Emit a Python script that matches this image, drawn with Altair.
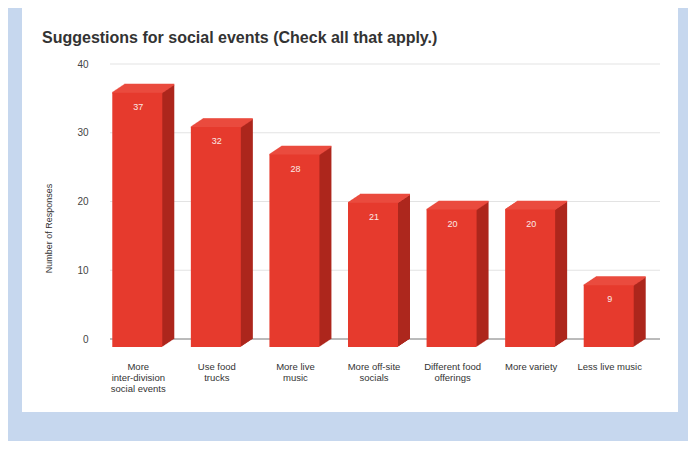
import altair as alt
import pandas as pd

categories = [
    "More|inter-division|social events",
    "Use food|trucks",
    "More live|music",
    "More off-site|socials",
    "Different food|offerings",
    "More variety",
    "Less live music",
]
responses = [37, 32, 28, 21, 20, 20, 9]
y_ticks = [0, 10, 20, 30, 40]

FONT = "Liberation Sans"
FRONT = "#e63a2d"
SIDE = "#ad271d"
TOP = "#ea4b3f"
DX, DY, N = 12, 8, 12
BAR_W = 50

df = pd.DataFrame({"cat": categories, "n": responses})
grid_df = pd.DataFrame({"t": y_ticks})
panel_df = pd.DataFrame({"a": [0]})

x_enc = alt.X(
    "cat:N",
    sort=categories,
    scale=alt.Scale(paddingInner=0.36, paddingOuter=0.18),
    axis=alt.Axis(
        title=None, labelAngle=0, domain=False, ticks=False,
        labelExpr="split(datum.value, '|')", labelOffset=-11,
        labelPadding=22, labelFontSize=9.5, labelColor="#333",
        labelFont=FONT, labelLineHeight=11, labelBaseline="top", zindex=1,
    ),
)
y_scale = alt.Scale(domain=[0, 40], nice=False)
y_axis = alt.Axis(
    values=y_ticks, grid=False, domain=False, ticks=False,
    labelPadding=22, labelFontSize=10, labelColor="#444", labelFont=FONT,
    title="Number of Responses", titleFontSize=9, titleFont=FONT,
    titleFontWeight="normal", titleColor="#333", titleX=-57, titleY=164,
    titleAngle=-90, zindex=1,
)

panel = alt.Chart(panel_df).mark_rect(color="white").encode(
    x=alt.value(-88), x2=alt.value(568), y=alt.value(-56), y2=alt.value(348)
)

grid = alt.Chart(grid_df).mark_rule(strokeWidth=1).encode(
    y=alt.Y("t:Q", scale=y_scale, axis=y_axis),
    color=alt.condition("datum.t == 0", alt.value("#777777"), alt.value("#e3e3e3")),
)

layers = [panel, grid]

# side extrusion (back to front)
for k in range(0, N):
    f = k / N
    xo = -DX * f
    yo = DY * f
    layers.append(
        alt.Chart(df).mark_bar(
            color=SIDE, width=BAR_W, xOffset=xo, yOffset=yo, y2Offset=yo
        ).encode(x=x_enc, y=alt.Y("n:Q", scale=y_scale, axis=y_axis))
    )
# top face
for k in range(0, N + 1):
    f = k / N
    xo = -DX * f
    yo = DY * f
    layers.append(
        alt.Chart(df).mark_tick(
            color=TOP, size=BAR_W, thickness=1.6, xOffset=xo, yOffset=yo, opacity=1
        ).encode(x=x_enc, y=alt.Y("n:Q", scale=y_scale, axis=y_axis))
    )
# front face
layers.append(
    alt.Chart(df).mark_bar(
        color=FRONT, width=BAR_W, xOffset=-DX, yOffset=DY, y2Offset=DY + 1
    ).encode(x=x_enc, y=alt.Y("n:Q", scale=y_scale, axis=y_axis))
)
# value labels
layers.append(
    alt.Chart(df).mark_text(
        color="#fbe9e6", fontSize=9, font=FONT, xOffset=-11, yOffset=22,
        baseline="middle",
    ).encode(x=x_enc, y=alt.Y("n:Q", scale=y_scale, axis=y_axis), text="n:Q")
)

chart = alt.layer(*layers).properties(
    width=550,
    height=275,
    autosize=alt.AutoSizeParams(type="none"),
    padding={"left": 102, "top": 56, "right": 28, "bottom": 102},
    background="#c6d7ee",
    title=alt.TitleParams(
        "Suggestions for social events (Check all that apply.)",
        anchor="start", dx=20, dy=38, offset=0, fontSize=16, font=FONT,
        fontWeight="bold", color="#333",
    ),
).configure_view(stroke=None)

chart.save("out.html", embed_options={"renderer": "svg", "actions": False})
